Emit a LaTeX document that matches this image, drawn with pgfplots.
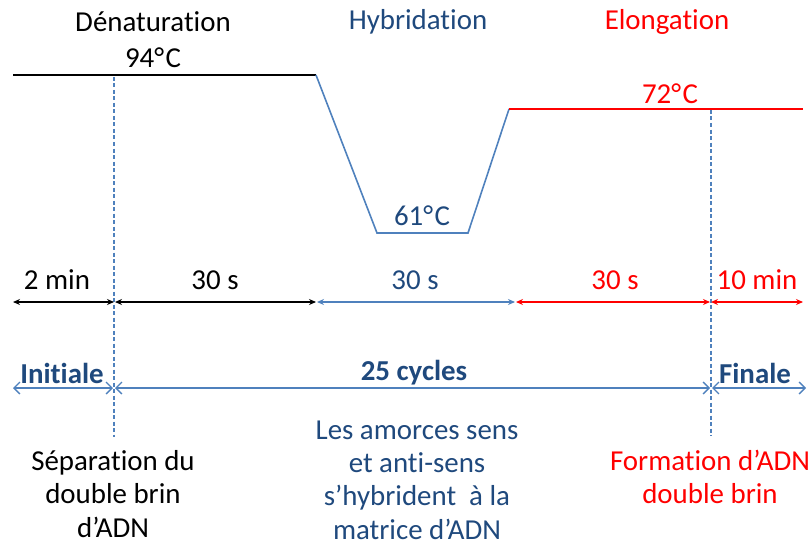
\documentclass[border=0pt]{standalone}
\usepackage{pgfplots}
\pgfplotsset{compat=1.18}
\usepackage{fontspec}
\setmainfont{Carlito}[Ligatures={NoCommon}]
\usetikzlibrary{arrows.meta}
\definecolor{dblue}{RGB}{31,73,125}
\definecolor{lblue}{RGB}{79,129,189}
\definecolor{pred}{RGB}{255,0,0}
\newcommand{\degC}{°\kern1.5bp C}
\begin{document}
\begin{tikzpicture}
\begin{axis}[width=811bp,height=548bp,scale only axis,hide axis,
  xmin=0,xmax=811,ymin=0,ymax=548,y dir=reverse,clip=false]
% temperature profile
\addplot[black,line width=1.6bp] coordinates {(13,75)(316,75)};
\addplot[lblue,line width=1.6bp] coordinates {(316,75)(377,233)(468,233)(509,109)};
\addplot[pred,line width=1.6bp] coordinates {(509,109)(803,109)};
% dashed separators
\addplot[lblue,dashed,dash pattern=on 4bp off 2.5bp,line width=1.1bp] coordinates {(114,77)(114,437)};
\addplot[lblue,dashed,dash pattern=on 4bp off 2.5bp,line width=1.1bp] coordinates {(711,110)(711,436)};
% duration arrows
\addplot[black,line width=1.5bp,{Stealth[length=7bp,width=6bp]}-{Stealth[length=7bp,width=6bp]}] coordinates {(13,302)(114,302)};
\addplot[black,line width=1.5bp,{Stealth[length=7bp,width=6bp]}-{Stealth[length=7bp,width=6bp]}] coordinates {(115,302)(316,302)};
\addplot[lblue,line width=1.5bp,{Stealth[length=7bp,width=6bp]}-{Stealth[length=7bp,width=6bp]}] coordinates {(317,302)(515,302)};
\addplot[pred,line width=1.5bp,{Stealth[length=7bp,width=6bp]}-{Stealth[length=7bp,width=6bp]}] coordinates {(516,302)(710,302)};
\addplot[pred,line width=1.5bp,{Stealth[length=7bp,width=6bp]}-{Stealth[length=7bp,width=6bp]}] coordinates {(711,302)(803,302)};
% phase arrows
\addplot[lblue,line width=1.3bp,{Straight Barb[length=6bp,width=12bp]}-{Straight Barb[length=6bp,width=12bp]}] coordinates {(13,388)(113,388)};
\addplot[lblue,line width=1.3bp,{Straight Barb[length=6bp,width=12bp]}-{Straight Barb[length=6bp,width=12bp]}] coordinates {(115,388)(710,388)};
\addplot[lblue,line width=1.3bp,{Straight Barb[length=6bp,width=12bp]}-{Straight Barb[length=6bp,width=12bp]}] coordinates {(712,388)(806,388)};
% texts
\begin{scope}[every node/.style={font=\fontsize{29}{33.5}\selectfont,inner sep=0pt,align=center}]
\node[black] at (axis cs:153,22) {Dénaturation};
\node[dblue] at (axis cs:418,22) {Hybridation};
\node[pred] at (axis cs:667,22) {Elongation};
\node[black] at (axis cs:153,58) {94\degC};
\node[pred] at (axis cs:670,94) {72\degC};
\node[dblue] at (axis cs:422,216) {61\degC};
\node[black] at (axis cs:57,280) {2 min};
\node[black] at (axis cs:215,280) {30 s};
\node[dblue] at (axis cs:415,280) {30 s};
\node[pred] at (axis cs:615,280) {30 s};
\node[pred] at (axis cs:757,280) {10 min};
\node[dblue,font=\fontsize{29}{33.5}\selectfont\bfseries] at (axis cs:62,373) {Initiale};
\node[dblue,font=\fontsize{29}{33.5}\selectfont\bfseries] at (axis cs:414,373) {25 cycles};
\node[dblue,font=\fontsize{29}{33.5}\selectfont\bfseries] at (axis cs:755,373) {Finale};
\node[black] at (axis cs:113,494) {Séparation du\\double brin\\d’ADN};
\node[dblue] at (axis cs:417,480) {Les amorces sens\\et anti-sens\\s’hybrident\ \ à la\\matrice d’ADN};
\node[pred] at (axis cs:710,477) {Formation d’ADN\\double brin};
\end{scope}
\end{axis}
\pgfresetboundingbox
\path (current axis.south west) rectangle (current axis.north east);
\end{tikzpicture}
\end{document}
